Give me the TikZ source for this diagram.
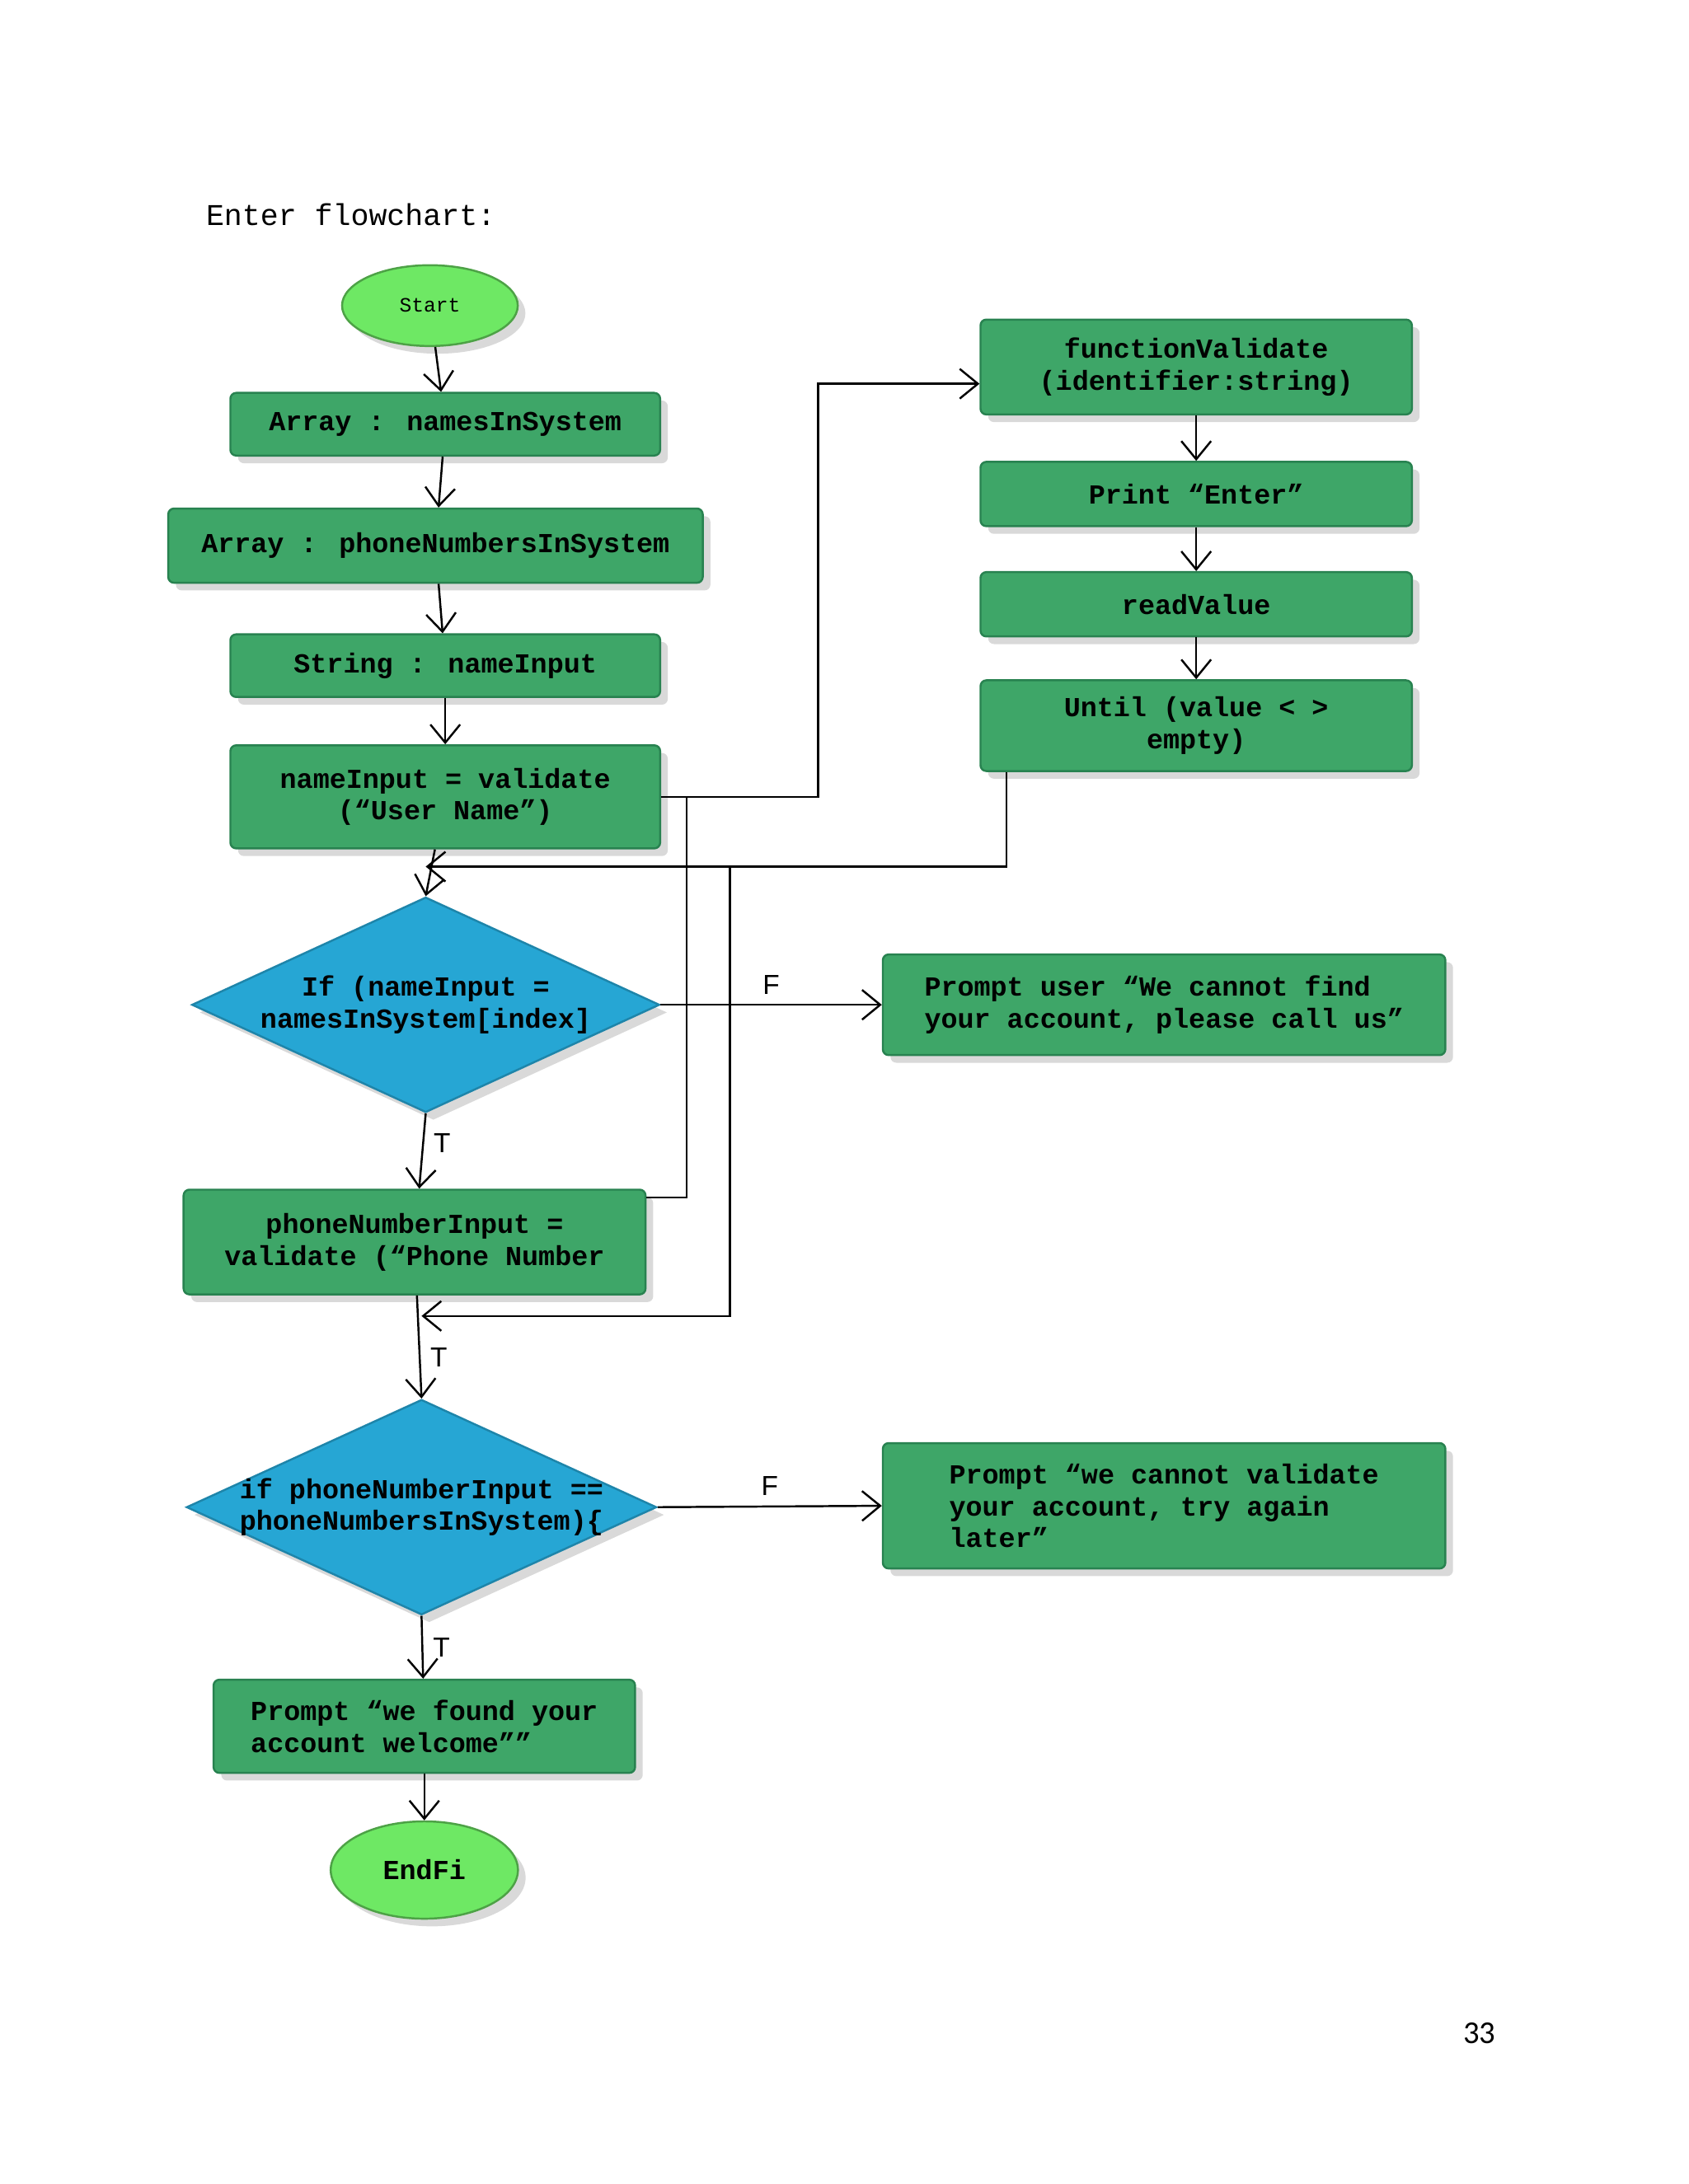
\documentclass[tikz,border=0pt]{standalone}
\usepackage{fontspec}
\setmainfont{Liberation Sans}
\newfontfamily\monofont{Liberation Mono}
\newfontfamily\pagefont{Carlito}
\usetikzlibrary{shapes.geometric,shadows,arrows.meta}
\definecolor{boxgreen}{RGB}{62,166,104}
\definecolor{boxedge}{RGB}{40,130,80}
\definecolor{decblue}{RGB}{38,166,212}
\definecolor{termgreen}{RGB}{110,232,100}
\begin{document}
\begin{tikzpicture}[
            x=0.016926cm, y=-0.016926cm,
            >={Straight Barb[length=2.2mm,width=3.6mm]},
            box/.style={rectangle, rounded corners=2pt, draw=boxedge, fill=boxgreen, drop shadow={opacity=0.3}, font=\monofont\bfseries\fontsize{9.5}{11}\selectfont, align=center, inner sep=2pt},
            dec/.style={diamond, draw=decblue!80!black, fill=decblue, drop shadow={opacity=0.3}, inner sep=0pt},
            dectext/.style={font=\monofont\bfseries\fontsize{9.5}{11}\selectfont, align=center},
            term/.style={ellipse, draw=termgreen!70!black, fill=termgreen, drop shadow={opacity=0.3}, align=center},
            lbl/.style={font=\fontsize{9.5}{11}\selectfont},
            line width=0.7pt
          ]
          \useasboundingbox (0,0) rectangle (1210,1565);

          %Nodes
          \node[anchor=west, font=\monofont\fontsize{10.4}{12}\selectfont] at (140,154) (title) {Enter flowchart:};
          \node[term, minimum width=2.13cm, minimum height=0.98cm, font=\monofont\fontsize{7}{8}\selectfont] at (308,219) (start) {Start};
          \node[box, minimum width=5.21cm, minimum height=0.76cm] at (319,304) (arr1) {Array : namesInSystem};
          \node[box, minimum width=6.48cm, minimum height=0.90cm] at (312,391) (arr2) {Array : phoneNumbersInSystem};
          \node[box, minimum width=5.21cm, minimum height=0.76cm] at (319,477) (str) {String : nameInput};
          \node[box, minimum width=5.21cm, minimum height=1.25cm] at (319,571) (val) {nameInput = validate\\(“User Name”)};
          \node[dec, minimum width=5.67cm, minimum height=2.61cm] at (305,720) (d1) {};
          \node[dectext] at (d1) (d1text) {If (nameInput =\\namesInSystem[index]};
          \node[box, minimum width=5.60cm, minimum height=1.27cm] at (297,890) (phone) {phoneNumberInput =\\validate (“Phone Number};
          \node[dec, minimum width=5.70cm, minimum height=2.61cm] at (302,1080) (d2) {};
          \node[dectext] at (d2) (d2text) {if phoneNumberInput ==\\phoneNumbersInSystem)\{};
          \node[box, minimum width=5.11cm, minimum height=1.13cm, align=left] at (304,1237) (found) {Prompt “we found your\\account welcome”” \phantom{xxx}};
          \node[term, minimum width=2.27cm, minimum height=1.18cm, font=\monofont\bfseries\fontsize{9.5}{11}\selectfont] at (304,1340) (endfi) {EndFi};

          \node[box, minimum width=5.23cm, minimum height=1.15cm] at (857,263) (fv) {functionValidate\\(identifier:string)};
          \node[box, minimum width=5.23cm, minimum height=0.78cm] at (857,354) (print) {Print “Enter”};
          \node[box, minimum width=5.23cm, minimum height=0.78cm] at (857,433) (read) {readValue};
          \node[box, minimum width=5.23cm, minimum height=1.10cm] at (857,520) (until) {Until (value < >\\empty)};
          \node[box, minimum width=6.82cm, minimum height=1.22cm, align=left] at (834,720) (pu) {Prompt user “We cannot find\\your account, please call us”};
          \node[box, minimum width=6.82cm, minimum height=1.52cm, align=left] at (834,1079) (pv) {Prompt “we cannot validate\\your account, try again\\later”\phantom{xxxxxxxxxxxxxxx}};

          \node[font=\pagefont\fontsize{11}{13}\selectfont] at (1060,1457) (page) {33};

          %Coordinates
          \coordinate (j1) at (586,275);
          \coordinate (b1) at (492,858);
          \coordinate (c1) at (721,621);
          \coordinate (c2) at (523,621);
          \coordinate (c3) at (523,943);

          %Lines
          \draw[->] (start) -- (arr1);
          \draw[->] (arr1) -- (arr2);
          \draw[->] (arr2) -- (str);
          \draw[->] (str) -- (val);
          \draw[->] (val) -- (d1.north);
          \draw[->] (d1.south) -- (phone) node[lbl, pos=0.4, right] {T};
          \draw[->] (phone) -- (d2.north) node[lbl, pos=0.6, right] {T};
          \draw[->] (d2.south) -- (found) node[lbl, midway, right] {T};
          \draw[->] (found) -- (endfi);
          \draw[->] (d1.east) -- (pu.west) node[lbl, midway, above] {F};
          \draw[->] (d2.east) -- (pv.west) node[lbl, midway, above] {F};
          \draw[->] (fv) -- (print);
          \draw[->] (print) -- (read);
          \draw[->] (read) -- (until);
          \draw[->] (val.east) -- (val.east -| j1) -- (j1) -- (fv.west |- j1);
          \draw (val.east -| b1) -- (b1) -- (b1 -| phone.east);
          \draw[->] (c1 |- until.south) -- (c1) -- (c1 -| d1.north);
          \draw[->] (c2) -- (c3) -- (c3 -| d2.north);

        \end{tikzpicture}
\end{document}
